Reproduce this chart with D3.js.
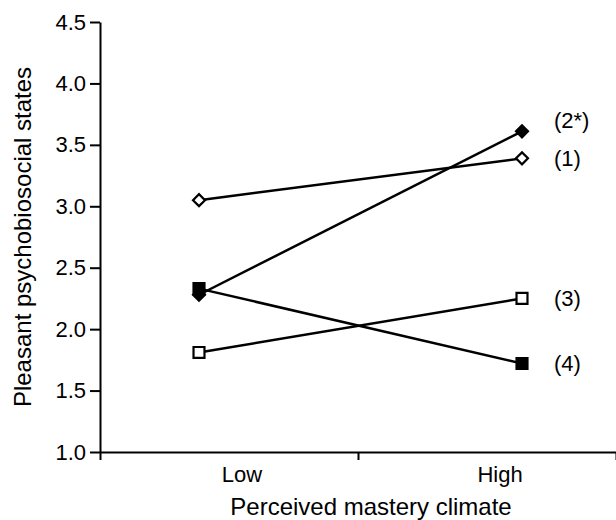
<!DOCTYPE html>
<html>
<head>
<meta charset="utf-8">
<script src="https://cdn.jsdelivr.net/npm/d3@7"></script>
<style>
  body { margin: 0; background: #fff; }
  svg { display: block; font-family: "Liberation Sans", Arial, sans-serif; }
</style>
</head>
<body>
<svg id="chart" width="616" height="520"></svg>
<script>
// chart data
const categories = ['Low', 'High'];
const groupNames = ['(1)', '(2*)', '(3)', '(4)'];
const groupValues = [
    [3.05, 3.39],
    [2.28, 3.61],
    [1.81, 2.25],
    [2.33, 1.72]
];
const groupMarkers = ['diamond-open', 'diamond-filled', 'square-open', 'square-filled'];
const yTicks = [1.0, 1.5, 2.0, 2.5, 3.0, 3.5, 4.0, 4.5];

const svg = d3.select('#chart');

const plotLeft = 100, plotRight = 616, plotTop = 22, plotBottom = 452;

const yScale = d3.scaleLinear()
    .domain([1, 4.5])
    .range([plotBottom, plotTop]);

// band scale for the category slots, point scale for the markers
const xBand = d3.scaleBand()
    .domain(categories)
    .range([plotLeft, plotRight]);

const xPoint = d3.scalePoint()
    .domain(categories)
    .range([199, 522]);

// x axis ticks sit on the band edges
const xEdge = d3.scaleLinear()
    .domain([0, categories.length])
    .range([plotLeft, plotRight]);

const xAxis = svg.append('g')
    .attr('transform', `translate(0, ${plotBottom})`)
    .call(d3.axisBottom(xEdge)
        .tickValues(d3.range(categories.length + 1))
        .tickSize(8)
        .tickSizeOuter(0)
        .tickFormat(''));

const yAxis = svg.append('g')
    .attr('transform', `translate(${plotLeft}, 0)`)
    .call(d3.axisLeft(yScale)
        .tickValues(yTicks)
        .tickSize(10)
        .tickSizeOuter(0)
        .tickPadding(4)
        .tickFormat(d3.format('.1f')));

svg.selectAll('.domain, .tick line')
    .attr('stroke', '#000')
    .attr('stroke-width', 2);

yAxis.selectAll('.tick text')
    .attr('font-size', 22)
    .attr('fill', '#000');

// category labels
svg.append('g')
    .selectAll('text')
    .data(categories)
    .enter()
    .append('text')
    .attr('x', (c) => xBand(c) + xBand.bandwidth() / 2 + 13)
    .attr('y', plotBottom + 30)
    .attr('text-anchor', 'middle')
    .attr('font-size', 22)
    .attr('fill', '#000')
    .text((c) => c);

// lines
const line = d3.line()
    .x((d, i) => xPoint(categories[i]))
    .y((d) => yScale(d));

svg.append('g')
    .selectAll('path')
    .data(groupValues)
    .enter()
    .append('path')
    .attr('d', line)
    .attr('fill', 'none')
    .attr('stroke', '#000')
    .attr('stroke-width', 2.5);

// markers
const diamond = d3.symbol().type(d3.symbolSquare).size(72);
const square = d3.symbol().type(d3.symbolSquare).size(120);

const drawOrder = [0, 2, 1, 3];
drawOrder.forEach((g) => {
    const kind = groupMarkers[g];
    const filled = kind.includes('filled');
    svg.append('g')
        .selectAll('path')
        .data(groupValues[g])
        .enter()
        .append('path')
        .attr('d', kind.includes('diamond') ? diamond : square)
        .attr('transform', (d, i) => {
            const t = `translate(${xPoint(categories[i])}, ${yScale(d)})`;
            return kind.includes('diamond') ? t + ' rotate(45)' : t;
        })
        .attr('fill', filled ? '#000' : '#fff')
        .attr('stroke', '#000')
        .attr('stroke-width', 2.2);
});

// group labels at the right, nudged apart when they crowd
const labels = groupNames.map((name, g) => ({
    name: name,
    y: yScale(groupValues[g][categories.length - 1])
})).sort((a, b) => b.y - a.y);

for (let i = 1; i < labels.length; i++) {
    if (labels[i - 1].y - labels[i].y < 38) {
        labels[i].y = labels[i - 1].y - 38;
    }
}

svg.append('g')
    .selectAll('text')
    .data(labels)
    .enter()
    .append('text')
    .attr('x', 554)
    .attr('y', (d) => d.y)
    .attr('dy', '0.35em')
    .attr('font-size', 22)
    .attr('fill', '#000')
    .text((d) => d.name);

// axis titles
svg.append('text')
    .attr('transform', `translate(31, ${(plotTop + plotBottom) / 2}) rotate(-90)`)
    .attr('text-anchor', 'middle')
    .attr('font-size', 24)
    .attr('fill', '#000')
    .text('Pleasant psychobiosocial states');

svg.append('text')
    .attr('x', 371)
    .attr('y', 515)
    .attr('text-anchor', 'middle')
    .attr('font-size', 24)
    .attr('fill', '#000')
    .text('Perceived mastery climate');
</script>
</body>
</html>
